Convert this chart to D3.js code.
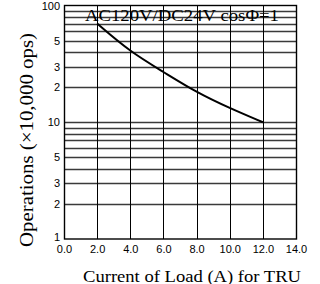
<!DOCTYPE html>
<html>
<head>
<meta charset="utf-8">
<script src="https://cdn.jsdelivr.net/npm/d3@7"></script>
<style>
  body { margin: 0; background: #fff; }
  svg { display: block; }
</style>
</head>
<body>
<div id="chart"></div>
<script>
// data
var currents = [2, 4, 6, 8, 10, 12]
var operations = [70, 40, 27, 18, 13.2, 10]
var xTicks = [0, 2, 4, 6, 8, 10, 12, 14]
var yTicks = [1, 2, 3, 5, 10, 20, 30, 50, 100]
var yTickText = ["1", "2", "3", "5", "10", "2", "3", "5", "100"]
var yGrid = [2, 3, 4, 5, 6, 7, 8, 9, 10, 20, 30, 40, 50, 60, 70, 80, 90]

var W = 320, H = 284
var plotL = 64, plotR = 296, plotT = 5.5, plotB = 239

var svg = d3.select('#chart').append('svg')
  .attr('width', W)
  .attr('height', H)

var x = d3.scaleLinear().domain([0, 14]).range([plotL, plotR])
var y = d3.scaleLog().domain([1, 100]).range([plotB, plotT])

// horizontal grid
svg.append('g').selectAll('line')
  .data(yGrid)
  .enter()
  .append('line')
  .attr('x1', plotL)
  .attr('x2', plotR)
  .attr('y1', function(d){ return Math.round(y(d)) + 0.5 })
  .attr('y2', function(d){ return Math.round(y(d)) + 0.5 })
  .attr('stroke', '#3a3a3a')
  .attr('stroke-width', 1.3)

// vertical grid
svg.append('g').selectAll('line')
  .data(xTicks.slice(1, -1))
  .enter()
  .append('line')
  .attr('x1', function(d){ return Math.round(x(d)) + 0.5 })
  .attr('x2', function(d){ return Math.round(x(d)) + 0.5 })
  .attr('y1', plotT)
  .attr('y2', plotB)
  .attr('stroke', '#000')
  .attr('stroke-width', 1)

// frame
svg.append('rect')
  .attr('x', plotL + 0.5)
  .attr('y', plotT)
  .attr('width', plotR - plotL)
  .attr('height', plotB - plotT)
  .attr('fill', 'none')
  .attr('stroke', '#000')
  .attr('stroke-width', 1.4)

// x axis labels
var xAxis = d3.axisBottom(x)
  .tickValues(xTicks)
  .tickSize(0)
  .tickPadding(6)
  .tickFormat(d3.format('.1f'))
var gx = svg.append('g')
  .attr('transform', 'translate(0,' + plotB + ')')
  .call(xAxis)
gx.select('.domain').remove()
gx.selectAll('text')
  .attr('font-family', 'Liberation Sans, Arial, sans-serif')
  .attr('font-size', 11)
  .attr('fill', '#000')

// y axis labels
var yAxis = d3.axisLeft(y)
  .tickValues(yTicks)
  .tickSize(0)
  .tickPadding(4)
  .tickFormat(function(d, i){ return yTickText[i] })
var gy = svg.append('g')
  .attr('transform', 'translate(' + plotL + ',0)')
  .call(yAxis)
gy.select('.domain').remove()
gy.selectAll('text')
  .attr('font-family', 'Liberation Sans, Arial, sans-serif')
  .attr('font-size', 11)
  .attr('fill', '#000')
gy.selectAll('.tick').filter(function(d){ return d === 1 })
  .select('text').attr('dy', '0.1em')

// curve
var line = d3.line()
  .x(function(d, i){ return x(currents[i]) })
  .y(function(d){ return y(d) })
  .curve(d3.curveBasis)
var pts = [operations[0]].concat(operations, [operations[operations.length - 1]])
line.x(function(d, i){ return x(currents[Math.max(0, Math.min(currents.length - 1, i - 1))]) })
svg.append('path')
  .datum(pts)
  .attr('d', line)
  .attr('fill', 'none')
  .attr('stroke', '#000')
  .attr('stroke-width', 2)

// title inside plot
svg.append('text')
  .attr('x', 85)
  .attr('y', 21)
  .attr('font-family', 'Liberation Serif, Times New Roman, serif')
  .attr('font-size', 17)
  .attr('textLength', 194)
  .attr('lengthAdjust', 'spacingAndGlyphs')
  .text('AC120V/DC24V cos\u03A6=1')

// axis titles
svg.append('text')
  .attr('transform', 'translate(33,140) rotate(-90)')
  .attr('text-anchor', 'middle')
  .attr('font-family', 'Liberation Serif, Times New Roman, serif')
  .attr('font-size', 19)
  .attr('textLength', 214)
  .attr('lengthAdjust', 'spacingAndGlyphs')
  .text('Operations (\u00D710,000 ops)')

svg.append('text')
  .attr('x', 192)
  .attr('y', 282)
  .attr('text-anchor', 'middle')
  .attr('font-family', 'Liberation Serif, Times New Roman, serif')
  .attr('font-size', 16)
  .attr('textLength', 218)
  .attr('lengthAdjust', 'spacingAndGlyphs')
  .text('Current of Load (A) for TRU')
</script>
</body>
</html>
